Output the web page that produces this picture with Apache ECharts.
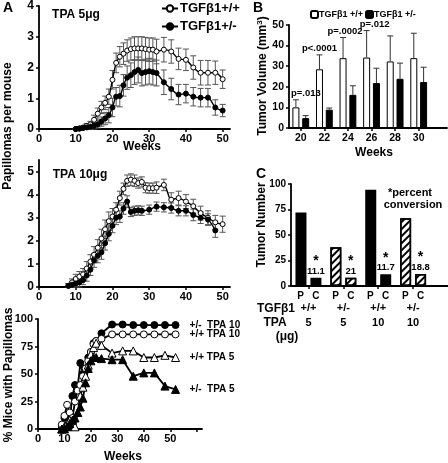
<!DOCTYPE html>
<html><head><meta charset="utf-8">
<script src="https://cdn.jsdelivr.net/npm/echarts@6/dist/echarts.min.js"></script>
<style>html,body{margin:0;padding:0;background:#fff}#c{width:448px;height:463px}</style>
</head><body><div id="c"></div>
<script>
// ---------- Panel A (top): papillomas per mouse, TPA 5 ug ----------
const weeksA5 = [10,11,12,13,14,15,16,17,18,19,20,21,22,23,24,25,26,27,28,29,30,31,32,34,36,38,40,42,44,46,48,50];
const wt5     = [0,0.02,0.05,0.1,0.15,0.3,0.5,0.7,0.85,1.05,1.6,2.15,2.35,2.45,2.55,2.6,2.62,2.62,2.62,2.6,2.58,2.58,2.52,2.58,2.52,2.28,2.25,2.0,1.83,1.83,1.83,1.62];
const wt5Err  = [0.02,0.03,0.05,0.08,0.1,0.15,0.18,0.2,0.22,0.25,0.3,0.32,0.33,0.35,0.35,0.36,0.38,0.38,0.38,0.38,0.38,0.38,0.4,0.4,0.38,0.35,0.35,0.38,0.4,0.4,0.38,0.3];
const het5    = [0,0.01,0.03,0.05,0.08,0.1,0.15,0.24,0.34,0.45,0.7,1.05,1.07,1.42,1.67,1.75,1.85,1.92,1.82,1.85,1.88,1.85,1.82,1.52,1.3,1.12,1.15,1.05,1.02,1.02,0.7,0.6];
const het5Err = [0.02,0.03,0.05,0.06,0.08,0.1,0.12,0.15,0.2,0.25,0.3,0.3,0.35,0.35,0.38,0.4,0.4,0.42,0.42,0.42,0.42,0.42,0.42,0.4,0.35,0.33,0.3,0.3,0.3,0.3,0.25,0.2];

// ---------- Panel A (middle): TPA 10 ug ----------
const weeksA10wt = [8,9,10,11,12,13,14,15,16,17,18,19,20,21,22,23,24,25,26,27,28,29,30,31,32,34,36,38,40,42,44,46,48,50];
const wt10       = [0.05,0.2,0.35,0.45,0.55,0.8,1.1,1.4,1.7,2.1,2.5,2.85,3.05,3.35,3.85,4.25,4.6,4.65,4.6,4.5,4.55,4.3,4.28,4.28,4.3,4.42,3.78,3.85,3.7,3.5,3.2,3.0,2.8,2.72];
const wt10Err    = [0.1,0.15,0.2,0.22,0.25,0.3,0.3,0.35,0.35,0.4,0.4,0.4,0.35,0.3,0.3,0.25,0.25,0.25,0.25,0.22,0.22,0.22,0.22,0.22,0.25,0.25,0.3,0.3,0.3,0.3,0.3,0.3,0.3,0.35];
const weeksA10het = [8,9,10,11,12,13,14,15,16,17,18,19,20,21,22,23,24,25,26,27,28,30,32,34,36,38,40,42,44,46,48];
const het10       = [0.05,0.1,0.15,0.2,0.3,0.5,0.75,1.15,1.35,1.5,1.9,2.3,2.65,3.0,3.05,3.4,3.7,3.25,3.3,3.32,3.3,3.35,3.48,3.45,3.42,3.3,3.3,3.12,3.0,2.92,2.45];
const het10Err    = [0.1,0.12,0.15,0.2,0.2,0.25,0.25,0.3,0.3,0.3,0.3,0.3,0.3,0.3,0.25,0.25,0.25,0.2,0.2,0.2,0.2,0.2,0.2,0.2,0.22,0.22,0.22,0.25,0.25,0.25,0.3];
const weekTicks   = [0,10,20,30,40,50];

// ---------- Panel A (bottom): % mice with papillomas ----------
const weeksInc = [9,10,11,12,13,14,15,16,17,18,19,20,21,22,24,28,32,36,40,44,48,52];
const incHet10 = [2,10,12,8,30,40,38,60,50,55,65,70,78,80,87,95,95,94.5,94.5,94.5,94.5,94.5];
const incWt10  = [4,12,22,15,10,25,35,40,48,55,62,70,77,80,82,86,86,86,86,86,86,86];
const incWt5   = [0,2,5,8,4,2,15,30,38,48,58,68,74,78,76,69,71,71,65,65,67,65];
const incHet5  = [0,0,2,5,8,10,15,20,28,42,55,62,65,65,64,63,63,48,51,51,39,36];
const incLabels = ['+/-  TPA 10','+/+ TPA 10','+/+ TPA 5','+/-  TPA 5'];

// ---------- Panel B: tumor volume ----------
const weeksB   = [20,22,24,26,28,30];
const volWt    = [10,28.5,33.9,34.2,32.3,33.9];
const volWtErr = [3.7,7,10,13.1,12.4,12.1];
const volHet   = [4.8,8.9,16.1,21.8,23.9,22.3];
const volHetErr= [1.2,0.8,4.4,7.2,7.6,7.2];
const pVals    = ['p=.013','p<.0001','p=.0002','p=.012','',''];

// ---------- Panel C: tumor number ----------
const groupIdx      = [1,2,3,4];
const groupGenotype = ['+/+','+/-','+/+','+/-'];
const groupDose     = ['5','5','10','10'];
const papNum  = [72,38,94.4,66.5];
const carcNum = [8.2,8.2,11.5,11.8];
const convPct = ['11.1','21','11.7','18.8'];

const FF = '"Liberation Sans", Arial, sans-serif';
const lbl = (s) => ({fontFamily: FF, fontWeight: 'bold', fontSize: s, color: '#000'});
const axLine = {show: true, lineStyle: {color: '#000', width: 1.8}};
const pLabelShift = [10, 0, 2, 8, 0, 0];   // horizontal nudge of the p-value texts (px)

function errItem(dx, onlyUp, color) {
  return function (params, api) {
    const x = api.value(0), lo = api.value(1), hi = api.value(2);
    const pLo = api.coord([x, lo]);
    const pHi = api.coord([x, hi]);
    const xx = pHi[0] + dx;
    const cw = 3;
    const st = {stroke: color, lineWidth: 1};
    const ch = [
      {type: 'line', shape: {x1: xx, y1: pHi[1], x2: xx, y2: pLo[1]}, style: st},
      {type: 'line', shape: {x1: xx - cw, y1: pHi[1], x2: xx + cw, y2: pHi[1]}, style: st}
    ];
    if (!onlyUp) ch.push({type: 'line', shape: {x1: xx - cw, y1: pLo[1], x2: xx + cw, y2: pLo[1]}, style: st});
    return {type: 'group', children: ch};
  };
}
function errData(xs, ys, es) { return xs.map((x, i) => [x, Math.max(0, ys[i] - es[i]), ys[i] + es[i]]); }
function pairs(xs, ys) { return xs.map((x, i) => [x, ys[i]]); }

const openSym = {color: '#fff', borderColor: '#000', borderWidth: 1};
const fillSym = {color: '#000', borderColor: '#000', borderWidth: 1};

function lineSeries(name, xi, data, open, sym, size, smooth) {
  return {name, type: 'line', xAxisIndex: xi, yAxisIndex: xi, data, symbol: sym || 'circle',
    symbolSize: size || 5, showSymbol: true, smooth: smooth || false, z: 3,
    lineStyle: {color: '#000', width: 1.4}, itemStyle: open ? openSym : fillSym, emphasis: {disabled: true}};
}

const hatch = {symbol: 'rect', dashArrayX: [1, 0], dashArrayY: [2, 3], rotation: -Math.PI / 4, color: '#000', symbolSize: 1};

const series = [
  {type: 'custom', xAxisIndex: 0, yAxisIndex: 0, renderItem: errItem(0, false, '#555'), data: errData(weeksA5, wt5, wt5Err), z: 1, silent: true},
  {type: 'custom', xAxisIndex: 0, yAxisIndex: 0, renderItem: errItem(0, false, '#555'), data: errData(weeksA5, het5, het5Err), z: 1, silent: true},
  lineSeries('TGFβ1+/+', 0, pairs(weeksA5, wt5), true, 'circle', 5, 0.3),
  lineSeries('TGFβ1+/-', 0, pairs(weeksA5, het5), false, 'circle', 5, 0.3),
  {type: 'custom', xAxisIndex: 1, yAxisIndex: 1, renderItem: errItem(0, false, '#555'), data: errData(weeksA10wt, wt10, wt10Err), z: 1, silent: true},
  {type: 'custom', xAxisIndex: 1, yAxisIndex: 1, renderItem: errItem(0, false, '#555'), data: errData(weeksA10het, het10, het10Err), z: 1, silent: true},
  lineSeries('wt10', 1, pairs(weeksA10wt, wt10), true, 'circle', 5, 0.3),
  lineSeries('het10', 1, pairs(weeksA10het, het10), false, 'circle', 5, 0.3),
  ...[[incHet10, false, 'circle', 7], [incWt10, true, 'circle', 7], [incWt5, true, 'triangle', 8], [incHet5, false, 'triangle', 8]].map((s, i) => {
    const o = lineSeries(incLabels[i], 2, pairs(weeksInc, s[0]), s[1], s[2], s[3], false);
    o.lineStyle.width = 1.8;
    o.endLabel = {show: true, formatter: () => incLabels[i], distance: 14, ...lbl(10)};
    return o;
  }),
  {name: 'TGFβ1 +/+', type: 'bar', xAxisIndex: 3, yAxisIndex: 3, data: pairs(weeksB, volWt), barWidth: 7, barGap: '40%',
   itemStyle: {color: '#fff', borderColor: '#000', borderWidth: 1}, emphasis: {disabled: true}},
  {name: 'TGFβ1 +/-', type: 'bar', xAxisIndex: 3, yAxisIndex: 3, data: pairs(weeksB, volHet), barWidth: 7, barGap: '40%',
   itemStyle: {color: '#000', borderColor: '#000', borderWidth: 1}, emphasis: {disabled: true}},
  {type: 'custom', xAxisIndex: 3, yAxisIndex: 3, z: 3, silent: true,
   data: weeksB.map((w, i) => [w, volWt[i], volWt[i] + volWtErr[i]]),
   renderItem: function (params, api) {
     const g = errItem(-4.9, true, '#333')(params, api);
     const p = api.coord([api.value(0), api.value(2)]);
     g.children.push({type: 'text', x: p[0] - 4.9 + pLabelShift[params.dataIndex], y: p[1] - 1,
       style: {text: pVals[params.dataIndex], textAlign: 'center', textVerticalAlign: 'bottom',
               font: 'bold 9.5px ' + FF, fill: '#000'}});
     return g;
   }},
  {type: 'custom', xAxisIndex: 3, yAxisIndex: 3, z: 3, silent: true,
   data: weeksB.map((w, i) => [w, volHet[i], volHet[i] + volHetErr[i]]),
   renderItem: errItem(4.9, true, '#333')},
  {name: 'P', type: 'bar', xAxisIndex: 4, yAxisIndex: 4, barWidth: 11, barGap: '36%', emphasis: {disabled: true},
   data: groupIdx.map((g, i) => ({value: [g, papNum[i]],
     itemStyle: groupGenotype[i] === '+/-' ? {color: '#fff', borderColor: '#000', borderWidth: 1.5, decal: hatch}
                                           : {color: '#000', borderColor: '#000', borderWidth: 1.5}}))},
  {name: 'C', type: 'bar', xAxisIndex: 4, yAxisIndex: 4, barWidth: 11, barGap: '36%', emphasis: {disabled: true},
   label: {show: true, position: 'top', distance: 1, align: 'center',
     formatter: (p) => '{s|*}\n{n|' + convPct[p.dataIndex] + '}',
     rich: {s: {fontFamily: FF, fontWeight: 'bold', fontSize: 14, lineHeight: 9, color: '#000'},
            n: {fontFamily: FF, fontWeight: 'bold', fontSize: 9.5, lineHeight: 11, color: '#000'}}},
   data: groupIdx.map((g, i) => ({value: [g, carcNum[i]],
     itemStyle: groupGenotype[i] === '+/-' ? {color: '#fff', borderColor: '#000', borderWidth: 1.5, decal: hatch}
                                           : {color: '#000', borderColor: '#000', borderWidth: 1.5}}))}
];

const grids = [
  {left: 39, top: 5, width: 191, height: 124},
  {left: 39, top: 160, width: 191, height: 127},
  {left: 38, top: 319, width: 164, height: 110},
  {left: 289, top: 25, width: 158, height: 103},
  {left: 291, top: 184, width: 157, height: 102}
];
const weekMaxTop = 52;

const xAxis = [
  {gridIndex: 0, type: 'value', min: 0, max: weekMaxTop, axisLine: axLine, splitLine: {show: false},
   axisTick: {show: true, length: 3, customValues: weekTicks, lineStyle: {color: '#000', width: 1.5}},
   axisLabel: {show: false}},
  {gridIndex: 1, type: 'value', min: 0, max: weekMaxTop, axisLine: axLine, splitLine: {show: false},
   axisTick: {show: true, length: 3, customValues: weekTicks, lineStyle: {color: '#000', width: 1.5}},
   axisLabel: {show: false}},
  {gridIndex: 2, type: 'value', min: 0, max: 62, axisLine: axLine, splitLine: {show: false},
   axisTick: {show: true, length: 3, customValues: [0,10,20,30,40,50,60], lineStyle: {color: '#000', width: 1.5}},
   axisLabel: {customValues: weekTicks, margin: 4, ...lbl(11)}},
  {gridIndex: 3, type: 'value', min: 19, max: 32.4, axisLine: axLine, splitLine: {show: false},
   axisTick: {show: true, length: 3, customValues: weeksB, lineStyle: {color: '#000', width: 1.5}},
   axisLabel: {customValues: weeksB, margin: 5, ...lbl(10.5)}},
  {gridIndex: 4, type: 'value', min: 0.5, max: 5, axisLine: axLine, splitLine: {show: false},
   axisTick: {show: true, length: 3, customValues: groupIdx, lineStyle: {color: '#000', width: 1.5}},
   axisLabel: {customValues: groupIdx, margin: 4,
     formatter: (v) => { const i = groupIdx.indexOf(v); return '{pc|P   C}\n{g|' + groupGenotype[i] + '}\n{d|' + groupDose[i] + '}'; },
     rich: {pc: {fontFamily: FF, fontWeight: 'bold', fontSize: 10, lineHeight: 12, color: '#000'},
            g: {fontFamily: FF, fontWeight: 'bold', fontSize: 11, lineHeight: 12, color: '#000'},
            d: {fontFamily: FF, fontWeight: 'bold', fontSize: 11, lineHeight: 18, color: '#000'}}}}
];

function yAx(gi, max, vals, fs) {
  return {gridIndex: gi, type: 'value', min: 0, max, axisLine: axLine, splitLine: {show: false},
    axisTick: {show: true, length: 3, customValues: vals, lineStyle: {color: '#000', width: 1.5}},
    axisLabel: {customValues: vals, margin: 5, ...lbl(fs)}};
}
const yAxis = [
  yAx(0, 4, [0,1,2,3,4], 12),
  yAx(1, 5.5, [0,1,2,3,4,5], 12),
  yAx(2, 100, [0,25,50,75,100], 11),
  yAx(3, 50, [0,10,20,30,40,50], 10.5),
  yAx(4, 100, [0,25,50,75,100], 10)
];

function txt(t, x, y, fs, opts) {
  return Object.assign({type: 'text', x, y, silent: true,
    style: {text: t, font: 'bold ' + fs + 'px ' + FF, fill: '#000', textAlign: 'center', textVerticalAlign: 'middle'}}, opts || {});
}
function rtxt(t, x, y, fs, rich) {
  const o = txt(t, x, y, fs, {rotation: Math.PI / 2});
  if (rich) o.style.rich = rich;
  return o;
}

const graphic = [
  txt('A', 8, 8, 14), txt('B', 258, 8, 14), txt('C', 261, 174, 14),
  txt('TPA 5μg', 76, 15, 12), txt('TPA 10μg', 80, 175, 12),
  txt('Weeks', 142, 147, 12), txt('Weeks', 123, 457, 12), txt('Weeks', 374, 153, 12),
  txt('*percent', 410, 193, 11), txt('conversion', 413, 205, 11),
  txt('TGFβ1', 276, 309, 12), txt('TPA', 275, 323, 12), txt('(μg)', 287, 337, 12),
  rtxt('Papillomas per mouse', 8, 126, 12),
  rtxt('% Mice with Papillomas', 9, 375, 12),
  rtxt('Tumor Volume (mm{sup|3})', 263, 76, 12, {sup: {fontSize: 8, fontWeight: 'bold', verticalAlign: 'top', padding: [0, 0, 6, 0]}}),
  rtxt('Tumor Number', 262, 225, 12)
];

const chart = echarts.init(document.getElementById('c'), null, {renderer: 'canvas'});
chart.setOption({
  animation: false,
  backgroundColor: '#fff',
  textStyle: {fontFamily: FF},
  grid: grids, xAxis, yAxis, series,
  legend: [
    {data: ['TGFβ1+/+', 'TGFβ1+/-'], left: 161, top: 2, orient: 'vertical', itemGap: 5, itemWidth: 16, itemHeight: 8,
     padding: 0, selectedMode: false, textStyle: {...lbl(13), padding: [0, 0, 0, -3]}},
    {data: ['TGFβ1 +/+', 'TGFβ1 +/-'], left: 310, top: 10, orient: 'horizontal', itemGap: 2, itemWidth: 7, itemHeight: 7,
     padding: 0, selectedMode: false, textStyle: {...lbl(9), padding: [0, 0, 0, -4]}}
  ]
});
// week tick labels of the two upper A panels, placed through the axes' own scales
const tickTexts = [];
[0, 1].forEach((gi) => weekTicks.forEach((v) => {
  let p = null;
  try { p = chart.convertToPixel({xAxisIndex: gi, yAxisIndex: gi}, [v, 0]); } catch (e) { p = null; }
  if (!p || !isFinite(p[0]) || !isFinite(p[1])) {
    const g = grids[gi];
    p = [g.left + v / weekMaxTop * g.width, g.top + g.height];
  }
  tickTexts.push(txt(String(v), p[0], p[1] + 10, 11, {z: 100, zlevel: 1}));
}));
chart.setOption({graphic: graphic.concat(tickTexts)});
</script></body></html>
